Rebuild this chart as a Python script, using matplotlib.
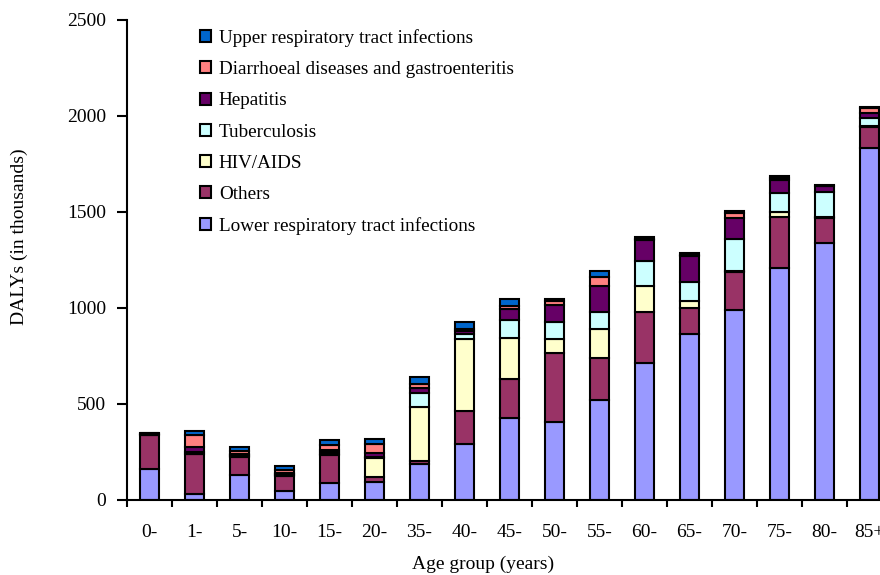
import matplotlib
matplotlib.use("Agg")
import matplotlib.pyplot as plt
import numpy as np

ages = ["0-", "1-", "5-", "10-", "15-", "20-", "35-", "40-", "45-",
        "50-", "55-", "60-", "65-", "70-", "75-", "80-", "85+"]

# DALYs in thousands (bottom to top)
lower_resp = [161, 32, 130, 45, 87, 92, 186, 292, 425, 405, 521, 715, 865, 990, 1210, 1337, 1831]
others = [177, 206, 96, 80, 147, 26, 19, 173, 205, 359, 217, 262, 137, 196, 264, 134, 110]
hiv_aids = [2, 4, 3, 4, 8, 100, 281, 375, 215, 76, 151, 138, 36, 9, 28, 4, 5]
tuberculosis = [3, 8, 4, 5, 8, 6, 69, 22, 90, 87, 92, 132, 96, 163, 99, 129, 45]
hepatitis = [3, 26, 8, 8, 10, 20, 27, 16, 60, 89, 134, 107, 137, 109, 66, 31, 26]
diarrhoeal = [2, 62, 15, 14, 26, 49, 21, 15, 13, 19, 45, 4, 5, 28, 9, 2, 26]
upper_resp = [2, 21, 22, 23, 24, 23, 39, 32, 40, 10, 34, 10, 9, 8, 9, 2, 4]

series = [
    ("Lower respiratory tract infections", lower_resp, "#9999FF"),
    ("Others", others, "#993366"),
    ("HIV/AIDS", hiv_aids, "#FFFFCC"),
    ("Tuberculosis", tuberculosis, "#CCFFFF"),
    ("Hepatitis", hepatitis, "#660066"),
    ("Diarrhoeal diseases and gastroenteritis", diarrhoeal, "#FF8080"),
    ("Upper respiratory tract infections", upper_resp, "#0066CC"),
]

plt.rcParams["font.family"] = ["Liberation Serif", "DejaVu Serif"]

fig = plt.figure(figsize=(8.8, 5.75), dpi=100)
ax = fig.add_axes([127 / 880, 75 / 575, 765 / 880, 480 / 575])

x = np.arange(len(ages))
bottom = np.zeros(len(ages))
handles = []
for name, vals, color in series:
    b = ax.bar(x, vals, width=0.43, bottom=bottom, color=color,
               edgecolor="black", linewidth=1.5, label=name)
    handles.append(b)
    bottom += np.array(vals)

ax.set_xlim(-0.5, len(ages) - 0.5)
ax.set_ylim(0, 2500)
ax.set_yticks([0, 500, 1000, 1500, 2000, 2500])
ax.set_xticks(x)
ax.set_xticklabels(ages)
ax.set_xticks(np.arange(-0.5, len(ages), 1.0), minor=True)
ax.tick_params(axis="x", which="major", length=0, pad=17, labelsize=14)
ax.tick_params(axis="x", which="minor", length=5, width=1.5, direction="out")
ax.tick_params(axis="y", length=7, width=1.5, pad=8, labelsize=14)

for side in ["top", "right"]:
    ax.spines[side].set_visible(False)
ax.spines["left"].set_linewidth(1.5)
ax.spines["bottom"].set_linewidth(1.5)

ax.set_ylabel("DALYs (in thousands)", fontsize=14)
ax.yaxis.set_label_coords(-0.13, 0.548)
ax.set_xlabel("Age group (years)", fontsize=14)
ax.xaxis.set_label_coords(0.465, -0.117)

ax.legend(handles[::-1], [s[0] for s in series][::-1], loc="upper left",
          bbox_to_anchor=(0.085, 0.997), frameon=False, fontsize=13.8,
          handlelength=0.6, handleheight=0.6, handletextpad=0.4,
          labelspacing=0.74, borderaxespad=0)

fig.savefig("out.png", dpi=100)
